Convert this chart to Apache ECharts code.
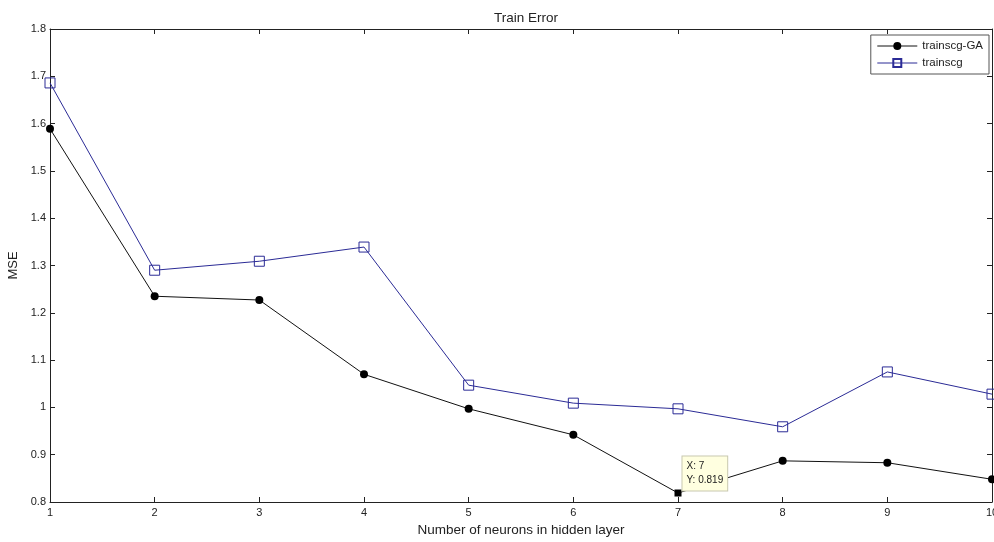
<!DOCTYPE html>
<html>
<head>
<meta charset="utf-8">
<script src="https://cdn.jsdelivr.net/npm/echarts@6/dist/echarts.min.js"></script>
<style>
	html, body { margin: 0; padding: 0; background: #fff; }
	#chart { width: 994px; height: 542px; }
</style>
</head>
<body>
<div id="chart"></div>
<script>
	// hidden layer neurons
	var neurons = [1, 2, 3, 4, 5, 6, 7, 8, 9, 10];
	// MSE values
	var mseGA = [1.589, 1.235, 1.227, 1.070, 0.997, 0.942, 0.819, 0.887, 0.883, 0.848];
	var mseScg = [1.686, 1.290, 1.309, 1.339, 1.047, 1.009, 0.997, 0.959, 1.075, 1.028];
	var tipIndex = 6;

	var font = "Liberation Sans, Arial, sans-serif";
	var axisColor = "#222";

	var gaData = [];
	for(var i=0; i<neurons.length; i++)
	{
		var item = { value: [neurons[i], mseGA[i]] };
		if(i === tipIndex)
		{
			item.symbol = "rect";
			item.symbolSize = 7;
			item.label =
			{
				show: true,
				position: [8, -33],
				formatter: "X: " + neurons[i] + "\nY: " + mseGA[i],
				backgroundColor: "#ffffe0",
				borderColor: "#c8c8b0",
				borderWidth: 1,
				padding: [3, 4],
				color: "#222",
				fontFamily: font,
				fontSize: 10,
				lineHeight: 14,
				align: "left"
			};
		}
		gaData.push(item);
	}

	var scgData = [];
	for(var i=0; i<neurons.length; i++)
		scgData.push([neurons[i], mseScg[i]]);

	var grid = { left: 50, right: 2, top: 29, bottom: 40, outerBoundsMode: "none" };

	var chart = echarts.init(document.getElementById("chart"));
	chart.setOption(
	{
		backgroundColor: "#fff",
		animation: false,
		title:
		{
			text: "Train Error",
			left: 521,
			textAlign: "center",
			top: 6,
			textStyle: { fontFamily: font, fontSize: 13.5, fontWeight: "normal", color: axisColor }
		},
		legend:
		{
			orient: "vertical",
			right: 5,
			top: 35,
			backgroundColor: "#fff",
			borderColor: "#555",
			borderWidth: 1,
			borderRadius: 0,
			padding: [5, 6, 5, 6],
			itemGap: 5,
			itemWidth: 40,
			itemHeight: 10,
			lineStyle: { width: 1 },
			textStyle: { fontFamily: font, fontSize: 11.5, color: axisColor },
			data: ["trainscg-GA", "trainscg"]
		},
		grid: grid,
		xAxis: [
		{
			type: "value",
			min: 1,
			max: 10,
			interval: 1,
			name: "Number of neurons in hidden layer",
			nameLocation: "middle",
			nameGap: 21,
			nameTextStyle: { fontFamily: font, fontSize: 13.5, color: axisColor },
			axisLine: { show: true, lineStyle: { color: axisColor, width: 1 } },
			axisTick: { inside: true, length: 5, lineStyle: { color: axisColor } },
			axisLabel: { fontFamily: font, fontSize: 11, color: axisColor, margin: 5 },
			splitLine: { show: false }
		},
		{
			type: "value",
			position: "top",
			min: 1,
			max: 10,
			interval: 1,
			axisLine: { show: true, lineStyle: { color: axisColor, width: 1 } },
			axisTick: { inside: true, length: 5, lineStyle: { color: axisColor } },
			axisLabel: { show: false },
			splitLine: { show: false }
		}],
		yAxis: [
		{
			type: "value",
			min: 0.8,
			max: 1.8,
			interval: 0.1,
			name: "MSE",
			nameLocation: "middle",
			nameGap: 27,
			nameTextStyle: { fontFamily: font, fontSize: 13, color: axisColor },
			axisLine: { show: true, lineStyle: { color: axisColor, width: 1 } },
			axisTick: { inside: true, length: 5, lineStyle: { color: axisColor } },
			axisLabel:
			{
				fontFamily: font, fontSize: 11, color: axisColor, margin: 4,
				formatter: function(v) { return String(parseFloat(v.toFixed(1))); }
			},
			splitLine: { show: false }
		},
		{
			type: "value",
			position: "right",
			min: 0.8,
			max: 1.8,
			interval: 0.1,
			axisLine: { show: true, lineStyle: { color: axisColor, width: 1 } },
			axisTick: { inside: true, length: 5, lineStyle: { color: axisColor } },
			axisLabel: { show: false },
			splitLine: { show: false }
		}],
		series: [
		{
			name: "trainscg-GA",
			type: "line",
			data: gaData,
			symbol: "circle",
			symbolSize: 8,
			showAllSymbol: true,
			color: "#000",
			lineStyle: { color: "#111", width: 1 },
			itemStyle: { color: "#000" },
			z: 3
		},
		{
			name: "trainscg",
			type: "line",
			data: scgData,
			symbol: "rect",
			symbolSize: 10,
			showAllSymbol: true,
			color: "#2b2b96",
			lineStyle: { color: "#2b2b96", width: 1 },
			itemStyle: { color: "rgba(255,255,255,0)", borderColor: "#2b2b96", borderWidth: 1 },
			z: 2
		}]
	});
</script>
</body>
</html>
